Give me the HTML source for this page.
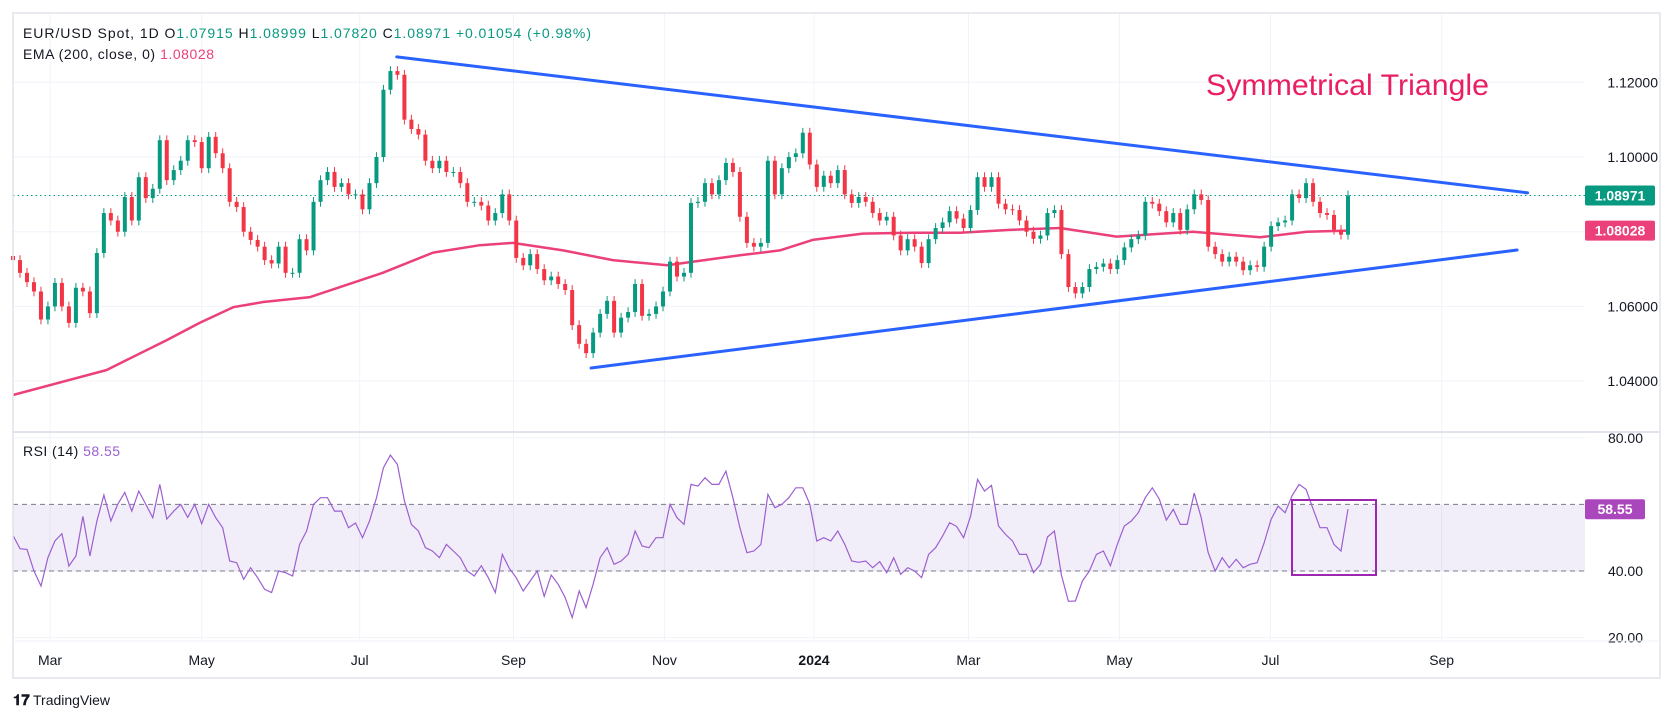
<!DOCTYPE html>
<html><head><meta charset="utf-8"><style>
html,body{margin:0;padding:0;background:#fff;}
svg{display:block;font-family:"Liberation Sans",sans-serif;}
</style></head><body>
<svg id="chart" width="1675" height="718" viewBox="0 0 1675 718" xmlns="http://www.w3.org/2000/svg">
<rect x="0" y="0" width="1675" height="718" fill="#fff"/>
<g id="grid"></g>
<g id="pricePane"></g>
<g id="rsiPane"></g>
<rect x="13" y="13" width="1647" height="665" fill="none" stroke="#e0e3eb" stroke-width="1.5"/>
<line x1="13" y1="432" x2="1660" y2="432" stroke="#e0e3eb" stroke-width="2"/>
<line x1="13" y1="641" x2="1660" y2="641" stroke="#f0f3fa" stroke-width="1"/>
<text x="23" y="38" font-size="14" fill="#131722" textLength="568" lengthAdjust="spacing">EUR/USD Spot, 1D <tspan fill="#131722">O</tspan><tspan fill="#089981">1.07915</tspan> <tspan fill="#131722">H</tspan><tspan fill="#089981">1.08999</tspan> <tspan fill="#131722">L</tspan><tspan fill="#089981">1.07820</tspan> <tspan fill="#131722">C</tspan><tspan fill="#089981">1.08971 +0.01054 (+0.98%)</tspan></text>
<text x="23" y="59" font-size="14" fill="#131722" textLength="191" lengthAdjust="spacing">EMA (200, close, 0) <tspan fill="#ec407a">1.08028</tspan></text>
<text x="23" y="456" font-size="14" fill="#131722" textLength="97" lengthAdjust="spacing">RSI (14) <tspan fill="#9c5fd0">58.55</tspan></text>
<text x="1206" y="95" font-size="30" fill="#e91e63" textLength="283" lengthAdjust="spacingAndGlyphs">Symmetrical Triangle</text>
<g id="xaxis"></g>
<g>
<text x="13" y="705" font-size="15" font-weight="bold" fill="#131722">𝟏𝟕</text>
<text x="33" y="705" font-size="14" fill="#131722">TradingView</text>
</g>
</svg>
<script>
const closes=[1.0724,1.0690,1.0665,1.0640,1.0565,1.0600,1.0663,1.0600,1.0556,1.0650,1.0640,1.0582,1.0743,1.0850,1.0830,1.0800,1.0893,1.0830,1.0946,1.0890,
1.0915,1.1045,1.0938,1.0965,1.0990,1.1045,1.1040,1.0970,1.1054,1.1010,1.0970,1.0880,1.0866,1.0800,1.0778,1.0760,1.0724,1.0715,1.0760,1.0690,
1.0690,1.0780,1.0750,1.0880,1.0938,1.0960,1.0920,1.0930,1.0900,1.0900,1.0860,1.0930,1.1000,1.1180,1.1230,1.1220,1.1100,1.1075,1.1060,1.0990,
1.0970,1.0990,1.0960,1.0960,1.0930,1.0880,1.0880,1.0870,1.0830,1.0850,1.0900,1.0830,1.0730,1.0710,1.0740,1.0700,1.0670,1.0680,1.0660,1.0644,
1.0550,1.0500,1.0475,1.0530,1.0580,1.0615,1.0530,1.0570,1.0585,1.0660,1.0575,1.0580,1.0600,1.0640,1.0720,1.0680,1.0690,1.0877,1.0880,1.0930,
1.0900,1.0938,1.0984,1.0960,1.0840,1.0770,1.0760,1.0770,1.0990,1.0900,1.0970,1.1000,1.1010,1.1065,1.0980,1.0920,1.0950,1.0930,1.0965,1.0900,
1.0877,1.0893,1.0880,1.0850,1.0830,1.0840,1.0790,1.0750,1.0780,1.0760,1.0716,1.0780,1.0810,1.0825,1.0855,1.0835,1.0810,1.0858,1.0946,1.0920,
1.0946,1.0875,1.0860,1.0858,1.0830,1.0800,1.0781,1.0790,1.0850,1.0858,1.0740,1.0652,1.0635,1.0652,1.0700,1.0706,1.0715,1.0700,1.0724,1.0758,
1.0780,1.0790,1.0880,1.0875,1.0855,1.0825,1.0850,1.0805,1.0860,1.0900,1.0885,1.0760,1.0740,1.0720,1.0733,1.0720,1.0697,1.0710,1.0706,1.0760,
1.0815,1.0825,1.0830,1.0900,1.0890,1.0930,1.0880,1.0850,1.0845,1.0805,1.0792,1.0897];
const rsiValues=[50.7,46.7,46.5,40,35.5,44,49,51.2,41.5,44.5,56.4,44.5,55,62.8,55,60.1,63.6,58,64,60,
56,66,55.6,58,60,56.1,60,54.2,60,56,53,43,42.5,37.5,41,38,34.5,33.5,40,39.5,
38.5,48,52,60,62,62,58,58,53,54.4,50,55,62,71,74.8,72,61.1,54,52,47,
46,44,48,46,44,40,38.5,41.6,38,33.5,45,40.8,38,34,37,40,32.4,38.8,36,32,
26,34,29,36,44,47,42,43,45,52,47.5,47,50,50,60,56,54,66,65.5,68,
66,66,70,62,53,45.5,46,48,63,59,60,62,65,65,60.1,49,50,49,52,48,
43,42.6,43,41,42.8,39.5,44,39,41,40,38,45,47,50.5,54.5,53.4,50,56.5,67.5,64,
65.7,53.5,51,49,45,45,39.5,42,50.2,52,38.8,30.9,31,37,40,45,46,41.6,48,53.5,
55,57.5,62,65,61.6,55.3,58.5,54,54,63.4,56,45.5,40,44,41,43.5,41,42,42.5,48.4,
55.5,59.5,57.5,62.6,66,64.5,58.6,53,53,48,46,58.55];
const emaIndex=[0,13.4,16.3,22,26.7,31.5,35.8,42.5,52.9,60.1,66.8,71.5,78.7,85.8,93.6,104,109.7,114.4,121.6,128.8,135.5,142.6,149.8,157.9,168.8,178.4,185.1,191];
const emaValues=[1.0363,1.0430,1.0457,1.0510,1.0556,1.0598,1.0612,1.0625,1.0690,1.0744,1.0764,1.0770,1.0750,1.0724,1.0710,1.0737,1.0750,1.0778,1.0795,1.0797,1.0797,1.0805,1.0810,1.0787,1.0800,1.0785,1.0800,1.0803];
const priceTicks=[1.12,1.10,1.08,1.06,1.04];
const priceTickLabels=["1.12000","1.10000","","1.06000","1.04000"];
const rsiTicks=[80,40,20];
const monthIndex=[5.3,27.0,49.6,71.6,93.2,114.6,136.7,158.3,179.9,204.4];
const monthLabels=["Mar","May","Jul","Sep","Nov","2024","Mar","May","Jul","Sep"];
const upperTrend=[[54.9,1.1268],[216.7,1.0904]];
const lowerTrend=[[82.7,1.04352],[215.2,1.0751]];
const firstOpen=1.0735, lastClose=1.08971, lastEma=1.08028, lastRsi=58.55;

const NS="http://www.w3.org/2000/svg";
const step=(1348-13)/191;
function xOf(i){return 13+i*step;}
function yP(p){return 157+(1.10-p)*3736;}
function yR(r){return 571-(r-40)*3.33;}
function mk(tag,attrs,parent){const e=document.createElementNS(NS,tag);for(const k in attrs)e.setAttribute(k,attrs[k]);parent.appendChild(e);return e;}
const grid=document.getElementById('grid'),pp=document.getElementById('pricePane'),rp=document.getElementById('rsiPane'),xa=document.getElementById('xaxis');

monthIndex.forEach((m,k)=>{const x=xOf(m);
 const g=mk('line',{x1:x,y1:13,x2:x,y2:641,stroke:'#f0f3fa','stroke-width':1},grid);
 
 
 const t=mk('text',{x:x,y:665,'font-size':14,'text-anchor':'middle',fill:'#131722','font-weight':monthLabels[k]==='2024'?'bold':'normal'},xa);
 t.textContent=monthLabels[k];
 
 
});
priceTicks.forEach((p,k)=>{const y=yP(p);
 const g=mk('line',{x1:13,y1:y,x2:1585,y2:y,stroke:'#f0f3fa','stroke-width':1},grid);
 
 
 if(priceTickLabels[k]){const t=mk('text',{x:1658,y:y+5,'font-size':14,'text-anchor':'end',fill:'#131722'},pp);t.textContent=priceTickLabels[k];
 
 }
});
rsiTicks.forEach(r=>{const y=yR(r);
 const g=mk('line',{x1:13,y1:y,x2:1585,y2:y,stroke:'#f0f3fa','stroke-width':1},grid);
 
 
 const t=mk('text',{x:1643,y:y+5,'font-size':14,'text-anchor':'end',fill:'#131722'},rp);t.textContent=r.toFixed(2);
 
 
});

const dl=mk('line',{x1:13,y1:yP(lastClose),x2:1585,y2:yP(lastClose),stroke:'#089981','stroke-width':1,'stroke-dasharray':'1.5,3'},pp);



let d='';emaIndex.forEach((m,k)=>{d+=(k?'L':'M')+xOf(m).toFixed(1)+','+yP(emaValues[k]).toFixed(1);});
const ema=mk('path',{d:d,fill:'none',stroke:'#ec407a','stroke-width':2.5,'stroke-linejoin':'round'},pp);



closes.forEach((c,i)=>{const o=i?closes[i-1]:firstOpen;const up=c>=o;const col=up?'#089981':'#f23645';
 const hi=Math.max(o,c)+0.0013, lo=Math.min(o,c)-0.0013;const x=xOf(i);
 const g=mk('g',{},pp);
 
 
 mk('line',{x1:x,y1:yP(hi),x2:x,y2:yP(lo),stroke:col,'stroke-width':1},g);
 const top=yP(Math.max(o,c)),h=Math.max(1,yP(Math.min(o,c))-top);
 mk('rect',{x:x-2,y:top,width:4,height:h,fill:col},g);
});

[[upperTrend,'upper-trendline'],[lowerTrend,'lower-trendline']].forEach(([t,n])=>{
 const l=mk('line',{x1:xOf(t[0][0]),y1:yP(t[0][1]),x2:xOf(t[1][0]),y2:yP(t[1][1]),stroke:'#2962ff','stroke-width':3,'stroke-linecap':'round'},pp);
 
 
});

[[lastClose,'#089981','last-price-badge'],[lastEma,'#ec407a','ema-value-badge']].forEach(([v,col,n])=>{
 const g=mk('g',{},pp);
 
 
 mk('rect',{x:1585,y:yP(v)-10,width:70,height:20,rx:2,fill:col},g);
 const t=mk('text',{x:1620,y:yP(v)+5,'font-size':14,'font-weight':'bold','text-anchor':'middle',fill:'#fff'},g);t.textContent=v.toFixed(5);
});

const band=mk('rect',{x:13,y:yR(60),width:1572,height:yR(40)-yR(60),fill:'rgba(126,87,194,0.1)'},rp);


[60,40].forEach(r=>{const l=mk('line',{x1:13,y1:yR(r),x2:1585,y2:yR(r),stroke:'#787b86','stroke-width':1,'stroke-dasharray':'5,4'},rp);
 
 });
let rd='';rsiValues.forEach((r,i)=>{rd+=(i?'L':'M')+xOf(i).toFixed(1)+','+yR(r).toFixed(1);});
const rl=mk('path',{d:rd,fill:'none',stroke:'#9c5fd0','stroke-width':1.2},rp);


const box=mk('rect',{x:1292,y:500,width:84,height:75,fill:'none',stroke:'#9c27b0','stroke-width':2},rp);


const rb=mk('g',{},rp);


mk('rect',{x:1585,y:yR(lastRsi)-10,width:60,height:20,rx:2,fill:'#ab47bc'},rb);
const rt=mk('text',{x:1615,y:yR(lastRsi)+5,'font-size':14,'font-weight':'bold','text-anchor':'middle',fill:'#fff'},rb);rt.textContent=lastRsi.toFixed(2);
</script>
</body></html>
